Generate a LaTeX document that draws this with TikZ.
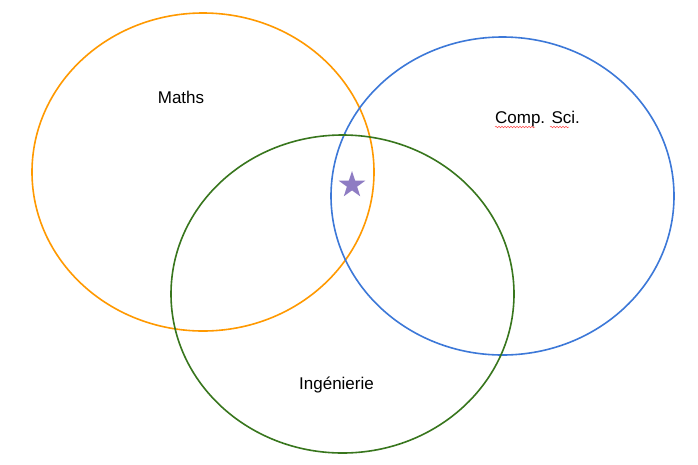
\documentclass[tikz,border=0pt]{standalone}
\usepackage{fontspec}
\setmainfont{Liberation Sans}
\usetikzlibrary{shapes.geometric, decorations.pathmorphing}
\definecolor{setorange}{HTML}{FF9900}
\definecolor{setblue}{HTML}{3C78D8}
\definecolor{setgreen}{HTML}{38761D}
\definecolor{starpurple}{HTML}{8E7CC3}
\tikzset{
  setline/.style={line width=1.6pt},
  label/.style={font=\fontsize{17}{20}\selectfont, inner sep=0pt, anchor=base},
  spell/.style={red!70, line width=0.5pt, decorate,
    decoration={snake, amplitude=0.8pt, segment length=3pt}}
}
\begin{document}
\begin{tikzpicture}[x=1pt,y=-1pt]
\useasboundingbox (0,0) rectangle (698,464);
\fill[white] (0,0) rectangle (698,464);
\draw[setline, setorange] (203,172) ellipse [x radius=171, y radius=159];
\draw[setline, setblue] (502.5,196) ellipse [x radius=171.5, y radius=159];
\draw[setline, setgreen] (342.5,294) ellipse [x radius=171.5, y radius=159];
\node[label] (maths) at (181,103) {Maths};
\node[label] (compsci) at (537.5,123) {Comp. Sci.};
\node[label] (inge) at (336.5,389) {Ingénierie};
\node[star, star points=5, star point ratio=2.6, minimum size=28pt,
  inner sep=0pt, fill=starpurple] (star) at (352,185) {};
\draw[spell] (495,127) -- (535,127);
\draw[spell] (550,127) -- (569,127);
\end{tikzpicture}
\end{document}
